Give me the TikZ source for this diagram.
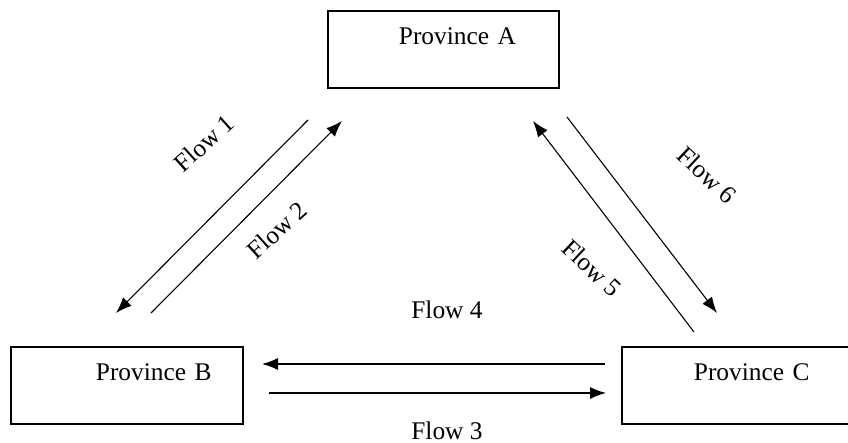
\documentclass[tikz,border=0pt]{standalone}
\usepackage{fontspec}
\setmainfont{Liberation Serif}
\usetikzlibrary{arrows.meta}
\tikzset{
    prov/.style={draw, line width=0.9pt, inner xsep=0pt, inner ysep=0pt, anchor=north west,
        text width=116pt, align=left, text height=16.7pt, text depth=21.8pt},
    flow/.style={line width=0.55pt, -{Latex[length=8pt,width=6pt]}},
}
\begin{document}
\begin{tikzpicture}[x=0.5pt, y=-0.5pt, font=\fontsize{12.7}{15}\selectfont]
    \useasboundingbox (0,0) rectangle (848,443);
    % provinces
    \node[prov, text width=115.5pt] (provA) at (327,10) {\hspace*{35.5pt}Province A};
    \node[prov] (provB) at (10,346) {\hspace*{42.5pt}Province B};
    \node[prov] (provC) at (621,346) {\hspace*{36pt}Province C};
    % ends of the flows
    \coordinate (f1s) at (308,120); \coordinate (f1e) at (116,313);
    \coordinate (f2s) at (151,313); \coordinate (f2e) at (342,121);
    \coordinate (f3s) at (269,393); \coordinate (f3e) at (606,393);
    \coordinate (f4s) at (605,364); \coordinate (f4e) at (262,364);
    \coordinate (f5s) at (694,332); \coordinate (f5e) at (533,121);
    \coordinate (f6s) at (567,117); \coordinate (f6e) at (717,313);
    \draw[flow] (f1s) -- (f1e);
    \draw[flow] (f2s) -- (f2e);
    \draw[flow] (f3s) -- (f3e);
    \draw[flow] (f4s) -- (f4e);
    \draw[flow] (f5s) -- (f5e);
    \draw[flow] (f6s) -- (f6e);
    % labels
    \node[rotate=42] (lab1) at (204,143) {Flow 1};
    \node[rotate=42] (lab2) at (277,230) {Flow 2};
    \node (lab3) at (447,431) {Flow 3};
    \node (lab4) at (447,310) {Flow 4};
    \node[rotate=-43] (lab5) at (592,268) {Flow 5};
    \node[rotate=-43] (lab6) at (707,175) {Flow 6};
\end{tikzpicture}
\end{document}
